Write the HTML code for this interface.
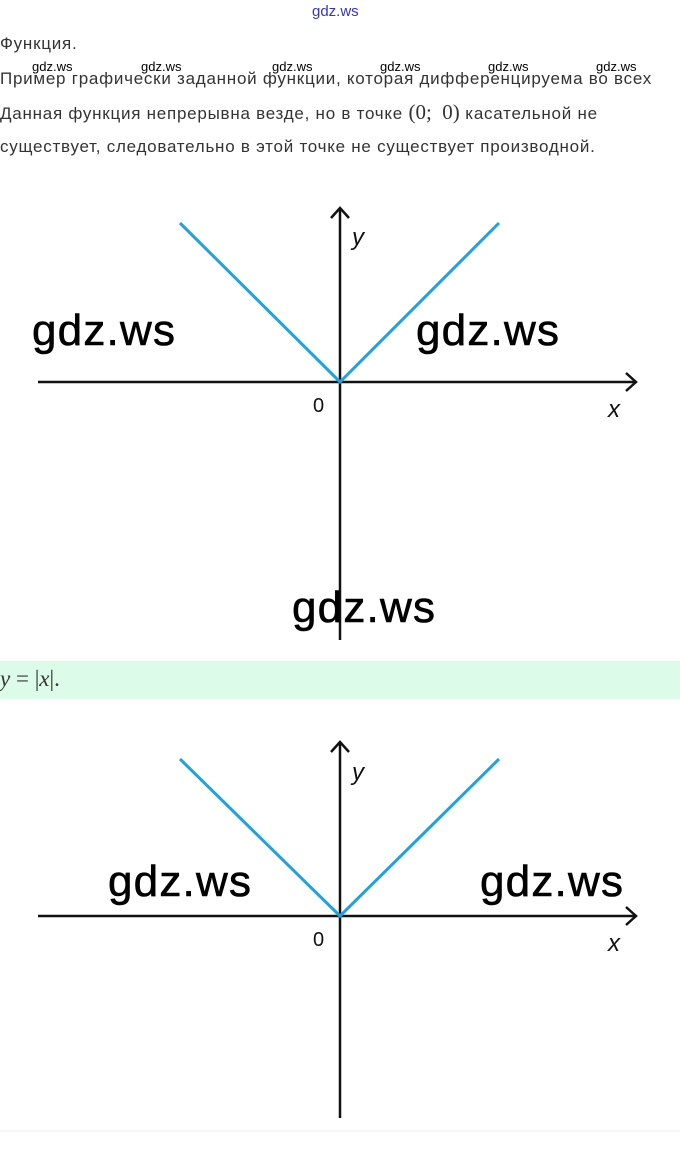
<!DOCTYPE html>
<html><head><meta charset="utf-8"><style>
body{margin:0;width:680px;height:1161px;background:#fff;position:relative;overflow:hidden;font-family:"Liberation Sans","DejaVu Sans",sans-serif}
.t{position:absolute;left:0;font-size:17px;letter-spacing:0.75px;color:#333;white-space:nowrap}
.wm{position:absolute;font-size:13px;color:#000;font-family:"Liberation Sans",sans-serif}
.big{position:absolute;font-size:44px;letter-spacing:1.2px;color:#000;font-family:"Liberation Sans",sans-serif;-webkit-text-stroke:0.6px #000}
.g{position:absolute;left:0;top:661px;width:680px;height:38px;background:#dcfce9}
</style></head><body>
<div style="position:absolute;left:312px;top:3px;font-size:15px;color:#3333cc">gdz.ws</div>
<div class="t" style="top:34px">Функция.</div>
<div class="t" style="top:69px">Пример графически заданной функции, которая дифференцируема во всех</div>
<div class="wm" style="left:32px;top:59px">gdz.ws</div>
<div class="wm" style="left:141px;top:59px">gdz.ws</div>
<div class="wm" style="left:272px;top:59px">gdz.ws</div>
<div class="wm" style="left:380px;top:59px">gdz.ws</div>
<div class="wm" style="left:488px;top:59px">gdz.ws</div>
<div class="wm" style="left:596px;top:59px">gdz.ws</div>
<div class="t" style="top:100px">Данная функция непрерывна везде, но в точке <span style="font-family:'Liberation Serif',serif;font-size:21px;letter-spacing:0">(0;&nbsp; 0)</span> касательной не</div>
<div class="t" style="top:137px">существует, следовательно в этой точке не существует производной.</div>
<div class="g"></div>
<div style="position:absolute;left:0;top:666px;font-family:'Liberation Serif',serif;font-size:23px;color:#333"><i>y</i> = |<i>x</i>|.</div>
<svg width="680" height="1161" style="position:absolute;left:0;top:0">
<g stroke="#111" stroke-width="2.5" fill="none">
<line x1="38" y1="382" x2="636" y2="382"/><polyline points="626,373 636,382 626,391"/>
<line x1="340" y1="640" x2="340" y2="208"/><polyline points="331,218 340,208 349,218"/>
<line x1="38" y1="916" x2="636" y2="916"/><polyline points="626,907 636,916 626,925"/>
<line x1="340" y1="1118" x2="340" y2="742"/><polyline points="331,752 340,742 349,752"/>
</g>
<g stroke="#1fa3e0" stroke-width="3" fill="none">
<polyline points="180,223 340,382 499,223"/>
<polyline points="180,759 340,916 499,759"/>
</g>
<g font-family="Liberation Sans,sans-serif" font-size="24" fill="#111">
<text x="352" y="245" font-style="italic">y</text><text x="608" y="417" font-style="italic">x</text><text x="313" y="412" font-size="20">0</text>
<text x="352" y="780" font-style="italic">y</text><text x="608" y="951" font-style="italic">x</text><text x="313" y="946" font-size="20">0</text>
</g>
<line x1="0" y1="1131" x2="680" y2="1131" stroke="#eee"/>
</svg>
<div class="big" style="left:32px;top:306px">gdz.ws</div>
<div class="big" style="left:416px;top:306px">gdz.ws</div>
<div class="big" style="left:292px;top:583px">gdz.ws</div>
<div class="big" style="left:108px;top:857px">gdz.ws</div>
<div class="big" style="left:480px;top:857px">gdz.ws</div>
</body></html>
